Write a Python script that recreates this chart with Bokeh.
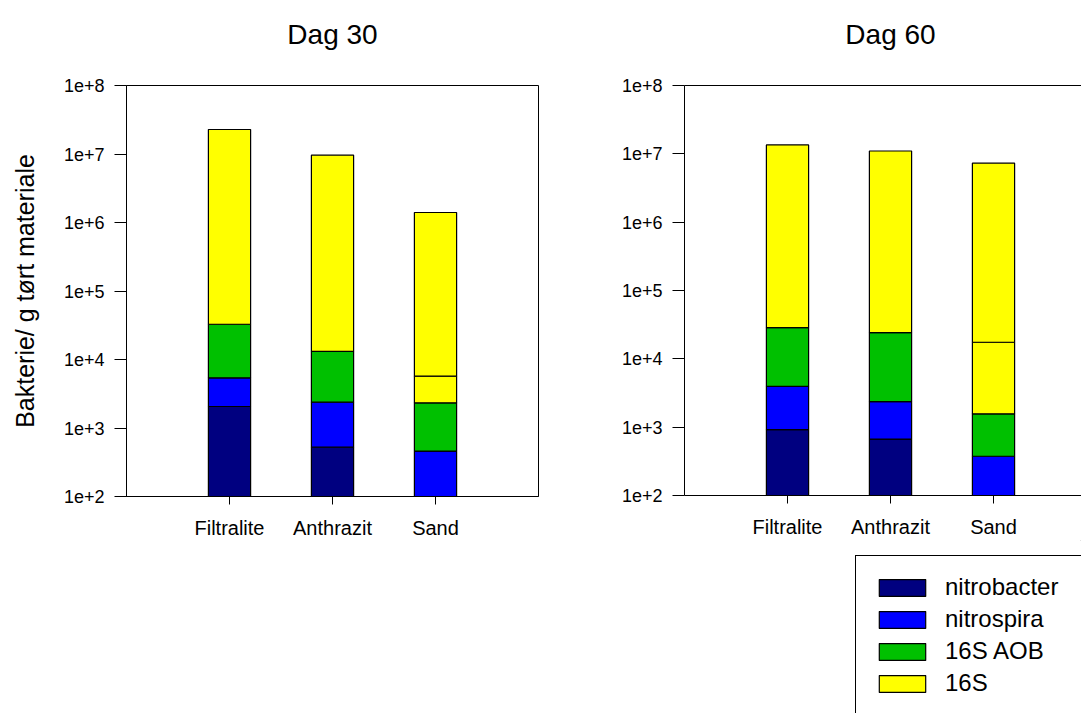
from bokeh.plotting import figure
from bokeh.models import (Range1d, LinearAxis, FixedTicker, Legend, LegendItem,
                          ColumnDataSource)
from bokeh.core.properties import value
from bokeh.layouts import row, column
from bokeh.embed import file_html
from bokeh.resources import INLINE

FONT = "Liberation Sans"

categories = ["Filtralite", "Anthrazit", "Sand"]
cat_pos = [1, 2, 3]
panel_titles = ["Dag 30", "Dag 60"]
series_names = ["nitrobacter", "nitrospira", "16S AOB", "16S"]
series_colors = ["#000080", "#0000FF", "#00C000", "#FFFF00"]
baseline = 1e2

# cumulative (stacked) top level of each segment
d30_nitrobacter = [2.06e3, 5.25e2, None]
d30_nitrospira = [5.4e3, 2.38e3, 4.6e2]
d30_aob = [3.27e4, 1.31e4, 2.33e3]
d30_16s = [2.28e7, 9.6e6, 1.4e6]
d30_16s_split = [None, None, 5.7e3]

d60_nitrobacter = [9.2e2, 6.7e2, None]
d60_nitrospira = [3.94e3, 2.36e3, 3.75e2]
d60_aob = [2.86e4, 2.42e4, 1.57e3]
d60_16s = [1.35e7, 1.1e7, 7.3e6]
d60_16s_split = [None, None, 1.75e4]

ytick_values = [1e2, 1e3, 1e4, 1e5, 1e6, 1e7, 1e8]
ytick_labels = ["1e+2", "1e+3", "1e+4", "1e+5", "1e+6", "1e+7", "1e+8"]

TOP_H = 71      # height of the title strip
TOP_B = 14      # top border of the panels (room for the "1e+8" label)


def segments(series, split):
    xs, bots, tops, cols = [], [], [], []
    for i, x in enumerate(cat_pos):
        prev = baseline
        for s, levels in enumerate(series):
            top = levels[i]
            if top is None:
                continue
            if s == 3 and split[i] is not None:
                xs.append(x); bots.append(prev); tops.append(split[i]); cols.append(series_colors[s])
                prev = split[i]
            xs.append(x); bots.append(prev); tops.append(top); cols.append(series_colors[s])
            prev = top
    return ColumnDataSource(dict(x=xs, bottom=bots, top=tops, color=cols))


def blank(width, height, xend, mb_left, mb_right):
    f = figure(width=width, height=height, x_range=Range1d(0, xend), y_range=Range1d(0, height),
               output_backend="svg", toolbar_location=None,
               min_border_left=mb_left, min_border_right=mb_right,
               min_border_top=0, min_border_bottom=0)
    f.axis.visible = False
    f.xgrid.visible = False
    f.ygrid.visible = False
    f.outline_line_color = None
    f.background_fill_color = "white"
    f.border_fill_color = "white"
    return f


def title_strip(title, width, xend, mb_left, mb_right):
    t = blank(width, TOP_H, xend, mb_left, mb_right)
    # centred over a 4-category-wide frame
    t.text(x=[2.0], y=[TOP_H - 34.3], text=[title], text_align="center",
           text_baseline="alphabetic", text_font=value(FONT),
           text_font_size="28px", text_color="black")
    return t


def make_panel(series, split, width, height, xend, mb_left, mb_right, mb_bottom, ylabel):
    p = figure(width=width, height=height, y_axis_type="log",
               x_range=Range1d(0, xend), y_range=Range1d(1e2, 1e8),
               output_backend="svg", toolbar_location=None,
               min_border_left=mb_left, min_border_right=mb_right,
               min_border_top=TOP_B, min_border_bottom=mb_bottom)
    p.xgrid.visible = False
    p.ygrid.visible = False
    p.background_fill_color = "white"
    p.border_fill_color = "white"

    src = segments(series, split)
    p.vbar(x="x", bottom="bottom", top="top", width=0.41, fill_color="color",
           line_color="black", line_width=1.2, source=src)

    ya = p.yaxis[0]
    ya.ticker = FixedTicker(ticks=ytick_values)
    ya.major_label_overrides = {v: l for v, l in zip(ytick_values, ytick_labels)}
    ya.major_label_text_font = FONT
    ya.major_label_text_font_size = "18px"
    ya.major_label_text_color = "black"
    ya.major_tick_out = 12
    ya.major_tick_in = 0
    ya.major_tick_line_color = "black"
    ya.minor_tick_line_color = None
    ya.major_label_standoff = 10
    ya.axis_line_color = "black"
    if ylabel:
        ya.axis_label = ylabel
        ya.axis_label_text_font = FONT
        ya.axis_label_text_font_size = "25px"
        ya.axis_label_text_font_style = "normal"
        ya.axis_label_text_color = "black"
        ya.axis_label_standoff = 22

    xa = p.xaxis[0]
    xa.ticker = FixedTicker(ticks=cat_pos)
    xa.major_label_overrides = {v: l for v, l in zip(cat_pos, categories)}
    xa.major_label_text_font = FONT
    xa.major_label_text_font_size = "20px"
    xa.major_label_text_color = "black"
    xa.major_tick_out = 8
    xa.major_tick_in = 0
    xa.major_tick_line_color = "black"
    xa.minor_tick_line_color = None
    xa.major_label_standoff = 12
    xa.axis_line_color = "black"
    return p


LW, RW = 580, 501
RX = 397 / 103

left_title = title_strip(panel_titles[0], LW, 4.0, 126, 42)
left = make_panel([d30_nitrobacter, d30_nitrospira, d30_aob, d30_16s], d30_16s_split,
                  LW, 713 - TOP_H, 4.0, 126, 42, 217, "Bakterie/ g tørt materiale")
left.outline_line_color = "black"
left.outline_line_width = 1
left.outline_line_alpha = 1

right_title = title_strip(panel_titles[1], RW, RX, 104, 0)
right = make_panel([d60_nitrobacter, d60_nitrospira, d60_aob, d60_16s], d60_16s_split,
                   RW, 540 - TOP_H, RX, 104, 0, 44, None)
right.outline_line_color = None
top_axis = LinearAxis(ticker=FixedTicker(ticks=[]), major_tick_line_color=None,
                      minor_tick_line_color=None, axis_line_color="black",
                      major_label_standoff=0, major_tick_out=0, major_tick_in=0)
right.add_layout(top_axis, "above")

lf = blank(RW, 173, 1, 104, 0)
items = []
for name, color in zip(series_names, series_colors):
    # placeholder glyph lying outside the visible range; only its legend swatch shows
    r = lf.vbar(x=[5], bottom=[500], top=[600], width=1, fill_color=color,
                line_color="black", line_width=1.2)
    items.append(LegendItem(label=name, renderers=[r]))
legend = Legend(items=items, location=(171, -2), border_line_color="black",
                border_line_width=1, border_line_alpha=1, background_fill_alpha=1,
                label_text_font=FONT, label_text_font_size="24px", label_text_color="black",
                glyph_width=58, glyph_height=21, label_standoff=14,
                label_width=130, padding=17, spacing=4, margin=0)
lf.add_layout(legend)

layout = row(column(left_title, left), column(right_title, right, lf))

with open("out.html", "w") as f:
    f.write(file_html(layout, INLINE))
